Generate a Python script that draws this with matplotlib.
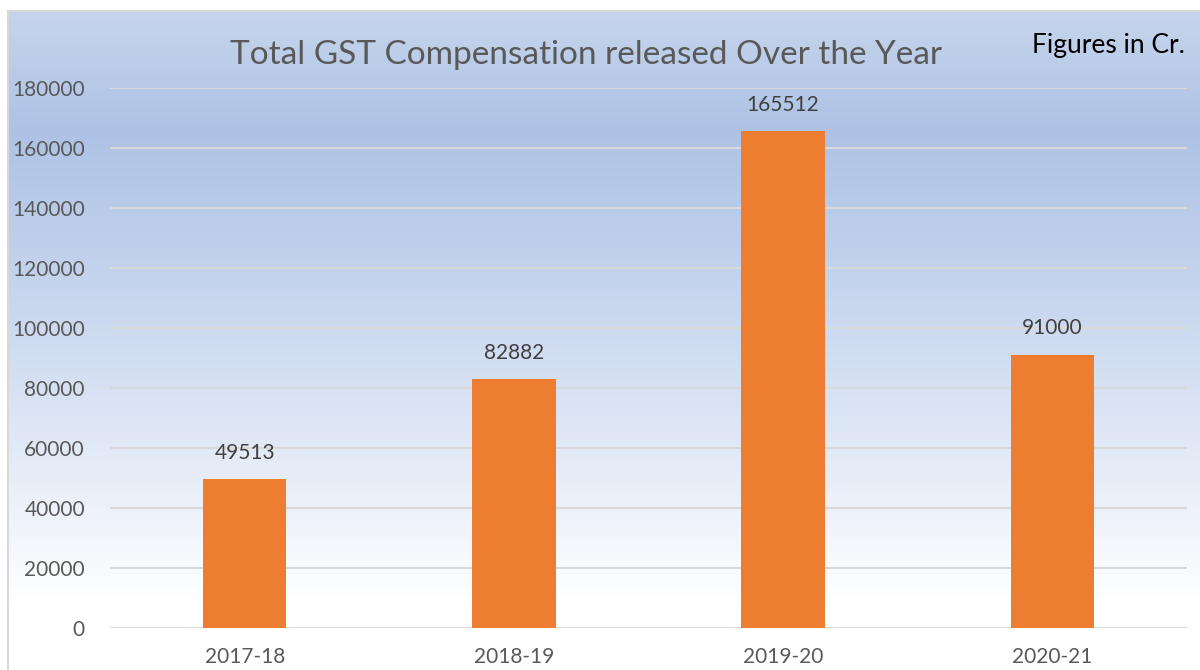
import numpy as np
import matplotlib.pyplot as plt
from matplotlib.colors import LinearSegmentedColormap

categories = ["2017-18", "2018-19", "2019-20", "2020-21"]
values = [49513, 82882, 165512, 91000]
yticks = [0, 20000, 40000, 60000, 80000, 100000, 120000, 140000, 160000, 180000]

W, H = 1200, 670
fig = plt.figure(figsize=(W/100, H/100), dpi=100)
plt.rcParams['font.family'] = ['Lato', 'DejaVu Sans']

# background gradient panel
bg = fig.add_axes([8/W, 0, 1 - 8/W, (H - 11)/H])
bg.set_zorder(0)
cmap = LinearSegmentedColormap.from_list(
    "g", [(0.0, "#C6D5EC"), (0.18, "#ADC2E5"), (0.55, "#D4DFF2"), (0.9, "#FFFFFF"), (1.0, "#FFFFFF")])
grad = np.linspace(0, 1, 256).reshape(-1, 1)
bg.imshow(grad, aspect='auto', cmap=cmap, extent=[0, 1, 0, 1], origin='upper')
bg.set_xlim(0, 1); bg.set_ylim(0, 1)
bg.set_xticks([]); bg.set_yticks([])
for s in bg.spines.values():
    s.set_color("#D9D9D9"); s.set_linewidth(1.5)
bg.spines['bottom'].set_visible(False)
bg.spines['right'].set_visible(False)

# main axes
x0, x1 = 110, 1187
y0, y1 = 628, 88
ax = fig.add_axes([x0/W, (H - y0)/H, (x1 - x0)/W, (y0 - y1)/H])
ax.set_zorder(1)
ax.patch.set_alpha(0)
x = np.arange(len(categories))
ax.bar(x, values, width=0.31, color="#ED7D31", zorder=3)
ax.set_xlim(-0.5, len(categories) - 0.5)
ax.set_ylim(0, 180000)
ax.set_yticks(yticks)
ax.set_yticklabels([str(v) for v in yticks], fontsize=15, color="#595959")
ax.set_xticks(x)
ax.set_xticklabels(categories, fontsize=15, color="#595959")
ax.tick_params(length=0)
ax.tick_params(axis='y', pad=18)
ax.tick_params(axis='x', pad=14)
ax.grid(axis='y', color="#D9D9D9", linewidth=1.5, zorder=0)
for s in ax.spines.values():
    s.set_visible(False)

for xi, v in zip(x, values):
    ax.annotate(str(v), (xi, v), xytext=(0, 12), textcoords='offset points',
                ha='center', va='bottom', fontsize=15, color="#404040")

fig.text(586/W, 1 - 55/H, "Total GST Compensation released Over the Year",
         ha='center', va='center', fontsize=24, color="#595959")
fig.text(1185/W, 1 - 45/H, "Figures in Cr.", ha='right', va='center',
         fontsize=19, color="black")

fig.savefig("out.png", dpi=100)
